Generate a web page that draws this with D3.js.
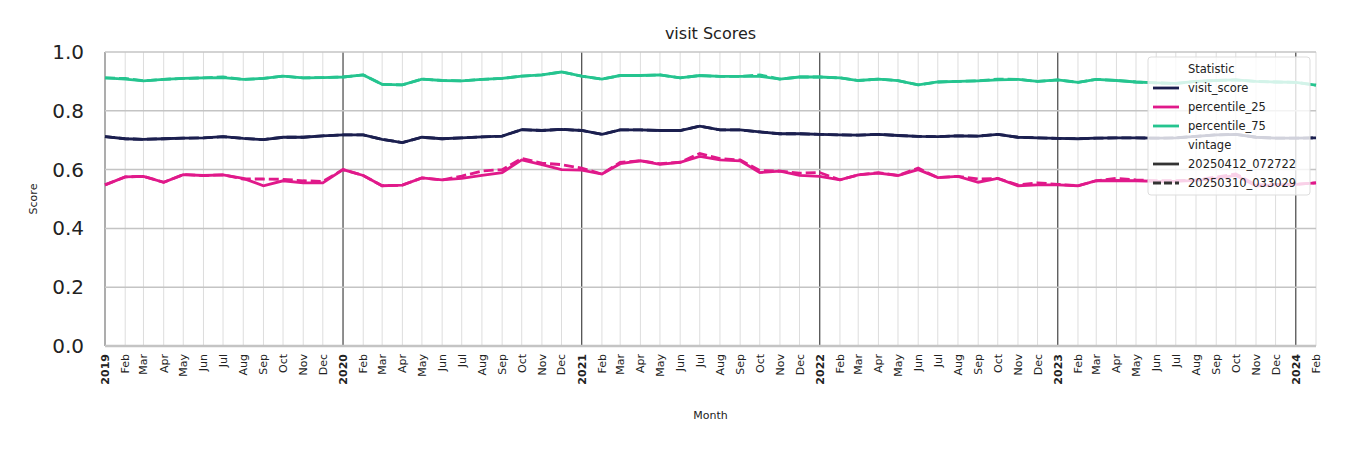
<!DOCTYPE html>
<html>
<head>
<meta charset="utf-8">
<script src="https://cdn.jsdelivr.net/npm/d3@7"></script>
<style>
  body { margin: 0; background: #fff; font-family: "DejaVu Sans", sans-serif; }
</style>
</head>
<body>
<svg width="1350" height="450"></svg>
<script>
// months Jan 2019 .. Feb 2024
var months = d3.timeMonths(new Date(2019, 0, 1), new Date(2024, 2, 1));

var visitScore = [0.712,0.705,0.703,0.705,0.707,0.708,0.712,0.706,0.702,0.710,0.710,0.715,
    0.718,0.718,0.703,0.692,0.710,0.705,0.708,0.711,0.714,0.736,0.733,0.737,
    0.733,0.720,0.735,0.735,0.733,0.733,0.748,0.735,0.735,0.728,0.722,0.722,
    0.720,0.718,0.717,0.720,0.716,0.713,0.712,0.715,0.714,0.720,0.710,0.708,
    0.706,0.705,0.707,0.708,0.708,0.707,0.708,0.713,0.718,0.720,0.710,0.707,
    0.707,0.708];
var p25New = [0.548,0.575,0.577,0.557,0.583,0.580,0.582,0.570,0.545,0.562,0.555,0.555,
    0.600,0.580,0.545,0.547,0.572,0.565,0.570,0.580,0.590,0.633,0.617,0.600,
    0.598,0.585,0.620,0.630,0.618,0.625,0.645,0.633,0.630,0.590,0.595,0.580,
    0.577,0.565,0.582,0.588,0.580,0.600,0.573,0.577,0.557,0.570,0.545,0.548,
    0.548,0.545,0.562,0.563,0.562,0.560,0.560,0.563,0.570,0.580,0.545,0.548,
    0.550,0.555];
var p25Old = [0.548,0.575,0.577,0.557,0.583,0.580,0.582,0.568,0.568,0.567,0.562,0.560,
    0.600,0.580,0.545,0.547,0.572,0.565,0.578,0.595,0.600,0.638,0.622,0.617,
    0.605,0.585,0.625,0.630,0.620,0.625,0.655,0.637,0.633,0.597,0.595,0.588,
    0.590,0.565,0.582,0.590,0.580,0.605,0.573,0.577,0.568,0.570,0.548,0.555,
    0.550,0.545,0.562,0.570,0.565,0.562,0.562,0.565,0.575,0.585,0.548,0.550,
    0.550,0.555];
var p75New = [0.912,0.908,0.902,0.907,0.910,0.912,0.913,0.907,0.910,0.918,0.912,0.913,
    0.915,0.922,0.890,0.888,0.908,0.903,0.902,0.907,0.910,0.918,0.922,0.932,
    0.918,0.908,0.920,0.920,0.922,0.912,0.920,0.917,0.917,0.917,0.908,0.915,
    0.915,0.912,0.903,0.908,0.903,0.888,0.898,0.900,0.902,0.905,0.907,0.900,
    0.905,0.897,0.907,0.903,0.898,0.895,0.893,0.900,0.903,0.905,0.900,0.898,
    0.897,0.887];
var p75Old = [0.912,0.910,0.902,0.907,0.910,0.912,0.915,0.907,0.910,0.918,0.912,0.913,
    0.915,0.922,0.890,0.888,0.908,0.903,0.902,0.907,0.910,0.918,0.922,0.932,
    0.918,0.908,0.920,0.920,0.922,0.912,0.920,0.917,0.917,0.922,0.908,0.915,
    0.915,0.912,0.903,0.908,0.903,0.888,0.898,0.900,0.902,0.908,0.907,0.900,
    0.905,0.897,0.907,0.903,0.898,0.895,0.893,0.900,0.903,0.905,0.900,0.898,
    0.897,0.887];
var yTicks = [0, 0.2, 0.4, 0.6, 0.8, 1.0];
var monthNames = ["Jan","Feb","Mar","Apr","May","Jun","Jul","Aug","Sep","Oct","Nov","Dec"];

var colors = { visit_score: "#1b1f4f", percentile_25: "#e0198a", percentile_75: "#25c48f" };
var series = [
    { stat: "percentile_75", dash: true, vals: p75Old },
    { stat: "percentile_25", dash: true, vals: p25Old },
    { stat: "visit_score", dash: true, vals: visitScore },
    { stat: "percentile_75", dash: false, vals: p75New },
    { stat: "percentile_25", dash: false, vals: p25New },
    { stat: "visit_score", dash: false, vals: visitScore }
];

var svg = d3.select("svg"),
    margin = { top: 52, right: 34, bottom: 104, left: 105 },
    width = 1350 - margin.left - margin.right,
    height = 450 - margin.top - margin.bottom,
    g = svg.append("g").attr("transform", "translate(" + margin.left + "," + margin.top + ")");

var x = d3.scaleTime().domain([months[0], months[months.length - 1]]).range([0, width]);
var y = d3.scaleLinear().domain([0, 1]).range([height, 0]);

// month grid
g.selectAll(".vgrid").data(months).enter().append("line")
    .attr("x1", function (d) { return x(d); }).attr("x2", function (d) { return x(d); })
    .attr("y1", 0).attr("y2", height)
    .attr("stroke", function (d) { return d.getMonth() === 0 ? "#444" : "#ddd"; })
    .attr("stroke-width", function (d) { return d.getMonth() === 0 ? 1.2 : 1; });

// y grid
g.selectAll(".hgrid").data(yTicks).enter().append("line")
    .attr("x1", 0).attr("x2", width)
    .attr("y1", function (d) { return y(d); }).attr("y2", function (d) { return y(d); })
    .attr("stroke", "#c4c4c4").attr("stroke-width", function (d) { return d === 0 ? 2.5 : 1.5; });

g.append("line").attr("x1", 0).attr("x2", 0).attr("y1", 0).attr("y2", height).attr("stroke", "#ccc");

// y tick labels
g.selectAll(".ylab").data(yTicks).enter().append("text")
    .attr("x", -21).attr("y", function (d) { return y(d); }).attr("dy", "0.35em")
    .attr("text-anchor", "end").attr("font-size", 20).attr("fill", "#222")
    .text(function (d) { return d.toFixed(1); });

// x tick labels
g.selectAll(".xlab").data(months).enter().append("text")
    .attr("transform", function (d) { return "translate(" + (x(d) + 4) + "," + (height + 8) + ") rotate(-90)"; })
    .attr("text-anchor", "end").attr("font-size", 11).attr("fill", "#222")
    .attr("font-weight", function (d) { return d.getMonth() === 0 ? "bold" : "normal"; })
    .text(function (d) { return d.getMonth() === 0 ? d.getFullYear() : monthNames[d.getMonth()]; });

var line = d3.line()
    .x(function (d, i) { return x(months[i]); })
    .y(function (d) { return y(d); });

g.selectAll(".series").data(series).enter().append("path")
    .attr("d", function (d) { return line(d.vals); })
    .attr("fill", "none")
    .attr("stroke", function (d) { return colors[d.stat]; })
    .attr("stroke-width", 2.8)
    .attr("stroke-dasharray", function (d) { return d.dash ? "10,4" : null; });

// titles
svg.append("text").attr("x", margin.left + width / 2).attr("y", 39).attr("text-anchor", "middle")
    .attr("font-size", 16).attr("fill", "#222").text("visit Scores");
svg.append("text").attr("x", margin.left + width / 2).attr("y", 419).attr("text-anchor", "middle")
    .attr("font-size", 11).attr("fill", "#222").text("Month");
svg.append("text").attr("transform", "translate(37," + (margin.top + height / 2) + ") rotate(-90)")
    .attr("text-anchor", "middle").attr("font-size", 11).attr("fill", "#222").text("Score");

// legend
var lg = svg.append("g").attr("transform", "translate(1148,57)");
lg.append("rect").attr("width", 162).attr("height", 138).attr("rx", 3)
    .attr("fill", "#fff").attr("fill-opacity", 0.8).attr("stroke", "#ddd");
var items = [
    { label: "Statistic", head: true },
    { label: "visit_score", color: colors.visit_score },
    { label: "percentile_25", color: colors.percentile_25 },
    { label: "percentile_75", color: colors.percentile_75 },
    { label: "vintage", head: true },
    { label: "20250412_072722", color: "#333" },
    { label: "20250310_033029", color: "#333", dash: true }
];
items.forEach(function (it, i) {
    var yy = 12 + i * 19;
    if (!it.head) {
        lg.append("line").attr("x1", 5).attr("x2", 31).attr("y1", yy).attr("y2", yy)
            .attr("stroke", it.color).attr("stroke-width", 2.8)
            .attr("stroke-dasharray", it.dash ? "8,3" : null);
    }
    lg.append("text").attr("x", 40).attr("y", yy).attr("dy", "0.35em")
        .attr("font-size", 11.5).attr("fill", "#222").text(it.label);
});
</script>
</body>
</html>
